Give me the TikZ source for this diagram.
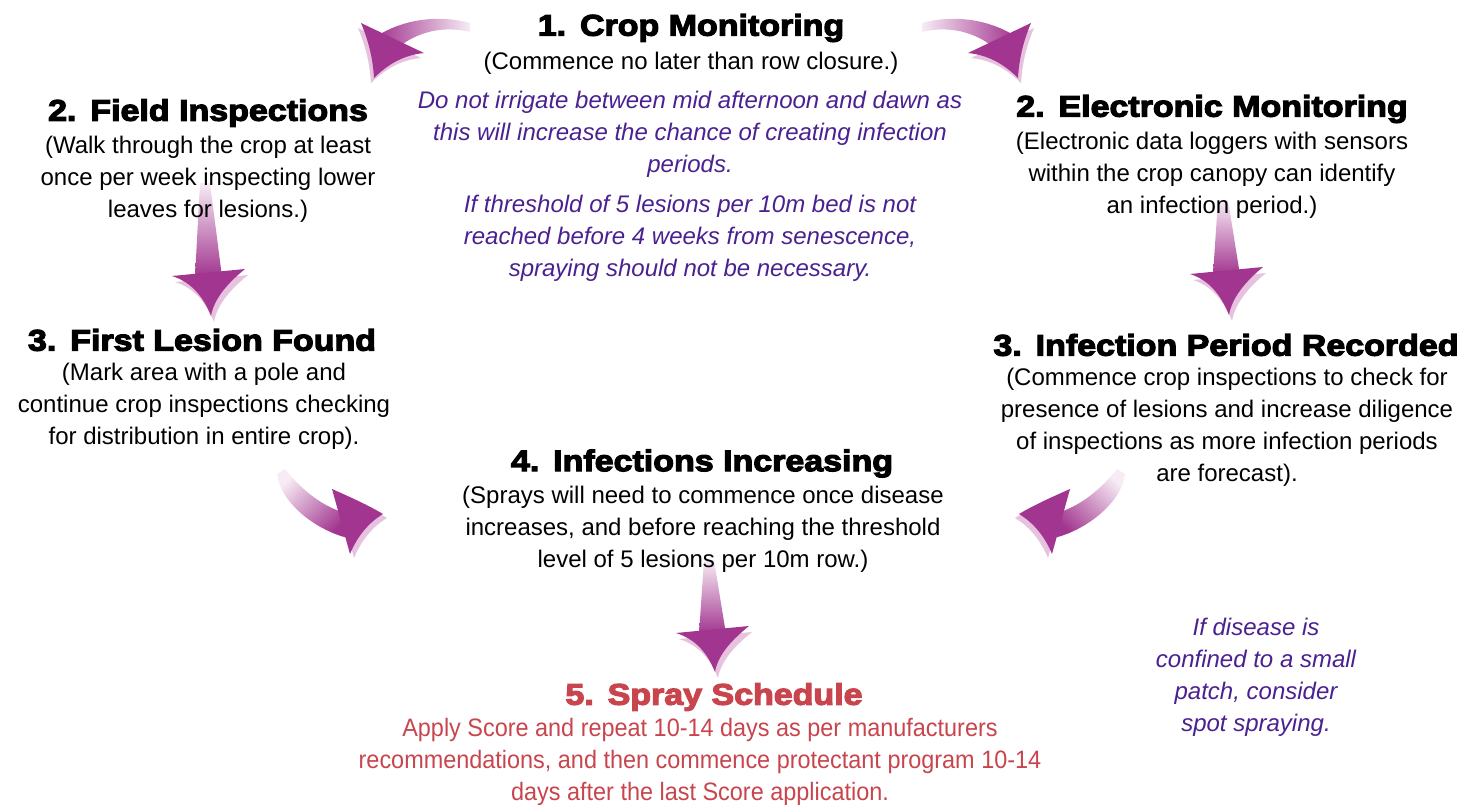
\documentclass[tikz,border=0pt]{standalone}
\usepackage{fontspec}
\setmainfont{Liberation Sans}
\newfontfamily\headfont{Liberation Sans Bold}[FakeStretch=1.14,FakeBold=4]
\newfontfamily\narrowfont{Liberation Sans}[FakeStretch=0.93]

\definecolor{inkpurple}{HTML}{4A2190}
\definecolor{sprayred}{HTML}{C8454D}
\definecolor{magD}{HTML}{A2358F}
\definecolor{magL}{HTML}{F7ECF5}
\definecolor{magS}{HTML}{E6C2DF}

\tikzset{
  title/.style={font=\headfont\fontsize{14.9}{18}\selectfont, inner sep=0pt},
  body/.style={font=\fontsize{12}{16}\selectfont, align=center, inner sep=0pt},
  redbody/.style={font=\narrowfont\fontsize{12.6}{15.8}\selectfont, align=center, inner sep=0pt, text=sprayred},
  note/.style={font=\itshape\fontsize{12}{16}\selectfont, align=center, inner sep=0pt, text=inkpurple},
  shaftfill/.style={top color=magL, bottom color=magD, shading angle=#1},
  headfill/.style={fill=magD},
  sidefill/.style={fill=magS},
}

% straight block arrow pointing down:
% #1 head centre x, #2 shaft top y, #3 head base y, #4 tip y
\newcommand\droparrow[4]{%
  \fill[sidefill, shift={(3,6)}] ({#1-37},{#3+2}) -- ({#1+36},{#3-5})
    .. controls ({#1+20},{#3+8}) and ({#1+5},{#4-18}) .. ({#1+2},#4)
    .. controls ({#1-6},{#4-20}) and ({#1-18},{#3+8}) .. cycle;
  \shade[shaftfill=0] ({#1-9},#2) -- ({#1+1},#2) -- ({#1+13},{#3+3}) -- ({#1-14},{#3+3}) -- cycle;
  \fill[headfill] ({#1-37},{#3+2}) -- ({#1+36},{#3-5})
    .. controls ({#1+20},{#3+8}) and ({#1+5},{#4-18}) .. ({#1+2},#4)
    .. controls ({#1-6},{#4-20}) and ({#1-18},{#3+8}) .. cycle;
}

% curved arrow beside the first heading: #1 mirror axis x, #2 side (1 or -1), #3 shading angle
\newcommand\toparrow[3]{%
  \fill[sidefill, shift={({(#2)*3},5)}] ({#1+(#2)*335},23)
    .. controls ({#1+(#2)*327},42) and ({#1+(#2)*323},60) .. ({#1+(#2)*322},78)
    .. controls ({#1+(#2)*308},64) and ({#1+(#2)*292},55) .. ({#1+(#2)*272},53) -- cycle;
  \shade[shaftfill=#3] ({#1+(#2)*226},23)
    .. controls ({#1+(#2)*259},14) and ({#1+(#2)*294},20) .. ({#1+(#2)*319},36)
    -- ({#1+(#2)*296},46)
    .. controls ({#1+(#2)*279},33) and ({#1+(#2)*254},25) .. ({#1+(#2)*226},32) -- cycle;
  \fill[headfill] ({#1+(#2)*335},23)
    .. controls ({#1+(#2)*327},42) and ({#1+(#2)*323},60) .. ({#1+(#2)*322},78)
    .. controls ({#1+(#2)*308},64) and ({#1+(#2)*292},55) .. ({#1+(#2)*272},53) -- cycle;
}

% curved arrow leading into step 4: #1 mirror axis x, #2 side (1 or -1), #3 shading angle
\newcommand\lowarrow[3]{%
  \fill[sidefill, shift={({(#2)*4},4)}] ({#1+(#2)*(-369)},489)
    .. controls ({#1+(#2)*(-351)},497) and ({#1+(#2)*(-333)},505) .. ({#1+(#2)*(-318)},514)
    .. controls ({#1+(#2)*(-333)},523) and ({#1+(#2)*(-344)},537) .. ({#1+(#2)*(-351)},554) -- cycle;
  \shade[shaftfill=#3] ({#1+(#2)*(-416)},469)
    .. controls ({#1+(#2)*(-404)},484) and ({#1+(#2)*(-386)},502) .. ({#1+(#2)*(-362)},511)
    -- ({#1+(#2)*(-353)},538)
    .. controls ({#1+(#2)*(-386)},530) and ({#1+(#2)*(-421)},502) .. ({#1+(#2)*(-424)},474) -- cycle;
  \fill[headfill] ({#1+(#2)*(-369)},489)
    .. controls ({#1+(#2)*(-351)},497) and ({#1+(#2)*(-333)},505) .. ({#1+(#2)*(-318)},514)
    .. controls ({#1+(#2)*(-333)},523) and ({#1+(#2)*(-344)},537) .. ({#1+(#2)*(-351)},554) -- cycle;
}

\begin{document}
\begin{tikzpicture}[x=0.5pt, y=-0.5pt]
\useasboundingbox (0,0) rectangle (1462,804);

% block arrows
\toparrow{696}{1}{90}
\toparrow{696}{-1}{-90}
\droparrow{209}{183}{274}{316}
\droparrow{1227}{200}{272}{315}
\lowarrow{701}{1}{45}
\lowarrow{701}{-1}{-45}
\droparrow{713}{560}{631}{672}

% step 1
\node[title] (t1) at (691,28) {1.\kern0.15em\ Crop Monitoring};
\node[body] (b1) at (691,63) {(Commence no later than row closure.)};
\node[note] (n1) at (690,134) {Do not irrigate between mid afternoon and dawn as\\this will increase the chance of creating infection\\periods.};
\node[note] (n2) at (690,238) {If threshold of 5 lesions per 10m bed is not\\reached before 4 weeks from senescence,\\spraying should not be necessary.};

% step 2
\node[title] (t2a) at (208,113) {2.\kern0.15em\ Field Inspections};
\node[body] (b2a) at (208,179.5) {(Walk through the crop at least\\once per week inspecting lower\\leaves for lesions.)};
\node[title] (t2b) at (1212,109) {2.\kern0.15em\ Electronic Monitoring};
\node[body] (b2b) at (1212,175) {(Electronic data loggers with sensors\\within the crop canopy can identify\\an infection period.)};

% step 3
\node[title] (t3a) at (202,340) {3.\kern0.15em\ First Lesion Found};
\node[body] (b3a) at (204,406.5) {(Mark area with a pole and\\continue crop inspections checking\\for distribution in entire crop).};
\node[title] (t3b) at (1226,345) {3.\kern0.15em\ Infection Period Recorded};
\node[body] (b3b) at (1227,427.5) {(Commence crop inspections to check for\\presence of lesions and increase diligence\\of inspections as more infection periods\\are forecast).};

% step 4
\node[title] (t4) at (702,463.5) {4.\kern0.15em\ Infections Increasing};
\node[body] (b4) at (703,529) {(Sprays will need to commence once disease\\increases, and before reaching the threshold\\level of 5 lesions per 10m row.)};

% step 5
\node[title, text=sprayred] (t5) at (714,697) {5.\kern0.15em\ Spray Schedule};
\node[redbody] (b5) at (700,762) {Apply Score and repeat 10-14 days as per manufacturers\\recommendations, and then commence protectant program 10-14\\days after the last Score application.};

\node[note] (n3) at (1256,677) {If disease is\\confined to a small\\patch, consider\\spot spraying.};
\end{tikzpicture}
\end{document}
